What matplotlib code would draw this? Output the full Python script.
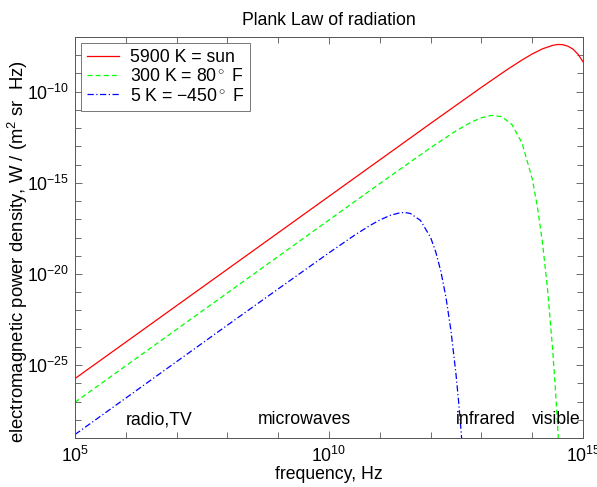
import numpy as np
import matplotlib
matplotlib.use("Agg")
import matplotlib.pyplot as plt
from matplotlib.ticker import FixedLocator, LogFormatterMathtext, NullFormatter

plt.rcParams['font.family'] = ['Liberation Sans', 'DejaVu Sans']
plt.rcParams['mathtext.fontset'] = 'custom'
plt.rcParams['mathtext.rm'] = 'Liberation Sans'
plt.rcParams['mathtext.it'] = 'Liberation Sans:italic'

# log10(frequency) and log10(power density)
sun_logf = [5, 8, 10, 12, 13, 13.5, 13.8, 14.0, 14.2, 14.4, 14.5, 14.6, 14.7, 14.8, 14.9, 15.0]
sun_logp = [-25.74, -19.74, -15.74, -11.74, -9.76, -8.80, -8.26, -7.93, -7.65, -7.46, -7.41,
            -7.42, -7.50, -7.66, -7.94, -8.36]

room_logf = [5, 8, 10, 11, 12, 12.5, 12.8, 13.0, 13.2, 13.4, 13.6, 13.8, 14.0, 14.1, 14.2,
             14.3, 14.4, 14.45, 14.5, 14.55]
room_logp = [-27.04, -21.04, -17.04, -15.04, -13.07, -12.15, -11.67, -11.43, -11.30, -11.37,
             -11.80, -12.82, -14.78, -16.28, -18.24, -20.79, -24.08, -26.06, -28.30, -30.83]

cold_logf = [5, 8, 9, 10, 10.5, 10.8, 11.0, 11.2, 11.4, 11.5, 11.6, 11.8, 12.0, 12.1, 12.2,
             12.3, 12.4, 12.5, 12.55, 12.6, 12.65]
cold_logp = [-28.81, -22.81, -20.82, -18.84, -17.88, -17.35, -17.04, -16.79, -16.64, -16.63,
             -16.68, -17.06, -18.00, -18.78, -19.84, -21.25, -23.10, -25.51, -26.97, -28.63, -30.50]

labels = ['5900 K = sun', '300 K = 80$^\\circ$ F', '5 K = \u2212450$^\\circ$ F']

bands = ['radio,TV', 'microwaves', 'infrared', 'visible']
band_logf = [6.0, 8.6, 12.49, 14.0]

fs = 12.7

fig = plt.figure(figsize=(5.97, 4.87), dpi=100)
ax = fig.add_axes([0.1256, 0.1006, 0.851, 0.8234])

ax.loglog(10.0**np.array(sun_logf), 10.0**np.array(sun_logp), '-', color='#ff0000', lw=0.9, label=labels[0])
ax.loglog(10.0**np.array(room_logf), 10.0**np.array(room_logp), '--', color='#00ff00', lw=0.9,
          dashes=(4, 2.5), label=labels[1])
ax.loglog(10.0**np.array(cold_logf), 10.0**np.array(cold_logp), '-.', color='#0000ff', lw=0.9,
          dashes=(5, 2, 1, 2), label=labels[2])

ax.set_xlim(1e5, 1e15)
ax.set_ylim(1e-29, 1e-7)

ax.xaxis.set_major_locator(FixedLocator([1e5, 1e10, 1e15]))
ax.xaxis.set_minor_locator(FixedLocator([10.0**k for k in range(5, 16)]))
ax.yaxis.set_major_locator(FixedLocator([1e-25, 1e-20, 1e-15, 1e-10]))
ax.yaxis.set_minor_locator(FixedLocator([10.0**k for k in range(-29, -6)]))
ax.xaxis.set_major_formatter(LogFormatterMathtext())
ax.yaxis.set_major_formatter(LogFormatterMathtext())
ax.xaxis.set_minor_formatter(NullFormatter())
ax.yaxis.set_minor_formatter(NullFormatter())
ax.tick_params(which='both', direction='in', top=True, right=True, color='#555555',
               labelsize=fs, width=0.6)
ax.tick_params(which='major', length=5)
ax.tick_params(which='minor', length=4)
ax.tick_params(axis='x', pad=6)
ax.tick_params(axis='y', pad=4)
for s in ax.spines.values():
    s.set_color('#555555')
    s.set_linewidth(0.7)

for b, lf in zip(bands, band_logf):
    ax.text(10.0**lf, 1e-28, b, fontsize=fs, va='center', ha='left')

ax.set_title('Plank Law of radiation', fontsize=fs, pad=9)
ax.set_xlabel('frequency, Hz', fontsize=fs, labelpad=0)
ax.set_ylabel('electromagnetic power density, W / (m$^2$ sr  Hz)', fontsize=13.3)
ax.yaxis.set_label_coords(-0.088, 0.464)

leg = ax.legend(loc='upper left', fontsize=fs, fancybox=False, edgecolor='#555555',
                handlelength=1.8, handletextpad=0.6, borderaxespad=0.35, labelspacing=0.12,
                borderpad=0.35)
leg.get_frame().set_linewidth(0.7)

fig.savefig('out.png', dpi=100)
